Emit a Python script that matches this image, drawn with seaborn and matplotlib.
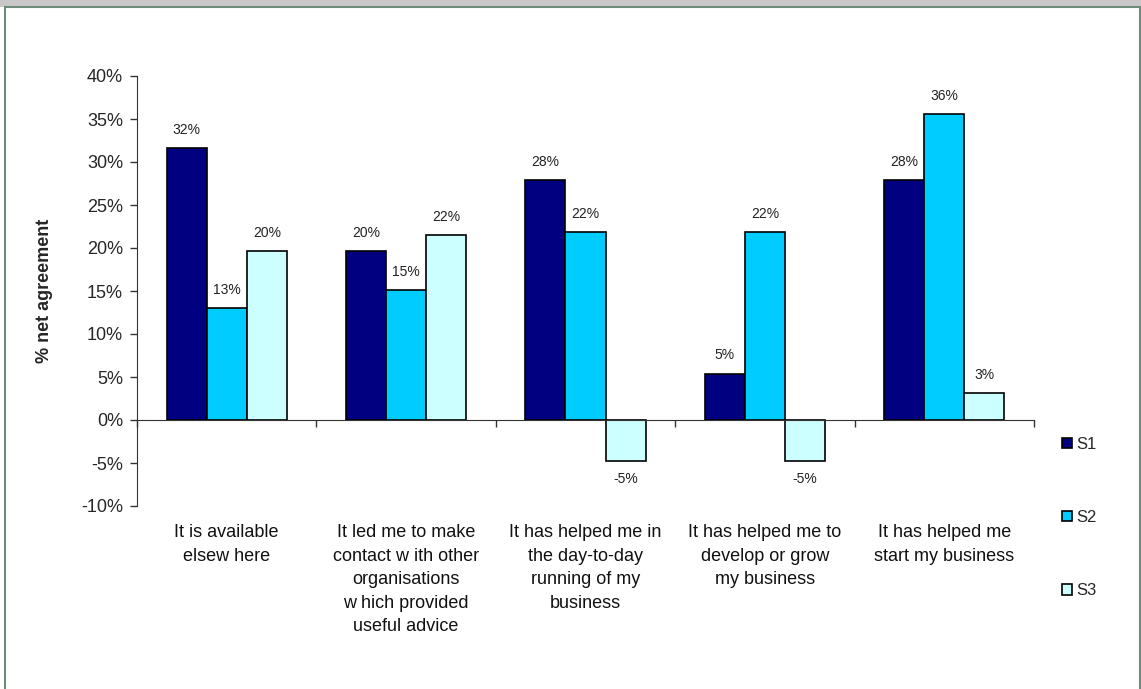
import pandas as pd
import numpy as np
import matplotlib.pyplot as plt
import seaborn as sns
from matplotlib.patches import Rectangle
from matplotlib.ticker import PercentFormatter, FixedLocator
import matplotlib.transforms as mtrans

categories = ['It is available\nelsew here',
              'It led me to make\ncontact w ith other\norganisations\nw hich provided\nuseful advice',
              'It has helped me in\nthe day-to-day\nrunning of my\nbusiness',
              'It has helped me to\ndevelop or grow\nmy business',
              'It has helped me\nstart my business']
series = ['S1', 'S2', 'S3']
s1 = [0.316, 0.196, 0.279, 0.054, 0.279]
s2 = [0.130, 0.151, 0.219, 0.219, 0.356]
s3 = [0.196, 0.215, -0.048, -0.048, 0.031]
colors = ['#000080', '#00CCFF', '#CCFFFF']

# long format for seaborn
df = pd.DataFrame({
    'cat': categories * 3,
    'series': [s for s in series for _ in categories],
    'value': s1 + s2 + s3,
})

sns.set_style('white')
plt.rcParams['font.family'] = ['Liberation Sans', 'DejaVu Sans']
plt.rcParams['axes.unicode_minus'] = False

fig = plt.figure(figsize=(11.41, 6.89), dpi=100)
ax = fig.add_axes([137/1141, 1 - 506/689, 897/1141, 430/689])

sns.barplot(data=df, x='cat', y='value', hue='series', palette=colors,
            saturation=1, width=0.67, gap=0, edgecolor='black', linewidth=1.2,
            ax=ax, legend=False)

for cont in ax.containers:
    ax.bar_label(cont, labels=[f'{round(v*100):.0f}%' for v in cont.datavalues],
                 padding=8, fontsize=10, color='#222222')

ax.set_xlim(-0.5, 4.5)
ax.set_ylim(-0.10, 0.40)
ax.yaxis.set_major_locator(FixedLocator(np.arange(-0.10, 0.401, 0.05)))
ax.yaxis.set_major_formatter(PercentFormatter(1, decimals=0))
ax.tick_params(axis='y', which='major', direction='out', length=5, width=1,
               color='#333333', labelsize=13, left=True, pad=5)

# category axis crossing at zero, ticks between categories
ax.spines['bottom'].set_position(('data', 0))
ax.spines['top'].set_visible(False)
ax.spines['right'].set_visible(False)
ax.spines['bottom'].set_color('#333333')
ax.spines['left'].set_color('#333333')
ax.set_xticks([])
ax.set_xticks(np.arange(-0.5, 4.6, 1), minor=True)
ax.tick_params(axis='x', which='minor', direction='out', length=5, width=1,
               color='#333333', bottom=True)
ax.set_xlabel('')
ax.set_ylabel('% net agreement', fontsize=13, fontweight='bold', labelpad=20)

trans = mtrans.blended_transform_factory(ax.transData, ax.transAxes)
for i, c in enumerate(categories):
    ax.text(i, -0.043, c, transform=trans, ha='center', va='top',
            fontsize=13, linespacing=1.5, color='#111111')

handles = [Rectangle((0, 0), 1, 1, facecolor=col, edgecolor='black', linewidth=1.2)
           for col in colors]
fig.legend(handles, series, loc='upper left', bbox_to_anchor=(1055/1141, 1 - 430/689),
           frameon=False, fontsize=12, handlelength=0.6, handleheight=0.6,
           handletextpad=0.3, labelspacing=3.5, borderaxespad=0)

# frame like the original export
fig.patches.append(Rectangle((0, 1 - 7/689), 1, 7/689, transform=fig.transFigure,
                             facecolor='#c8c8c8', edgecolor='none', zorder=0))
fig.patches.append(Rectangle((5/1141, -0.02), 1135/1141, 1 - 7/689 + 0.02,
                             transform=fig.transFigure, fill=False,
                             edgecolor='#6e8a78', linewidth=1.5, zorder=1))

fig.savefig('out.png', dpi=100)
